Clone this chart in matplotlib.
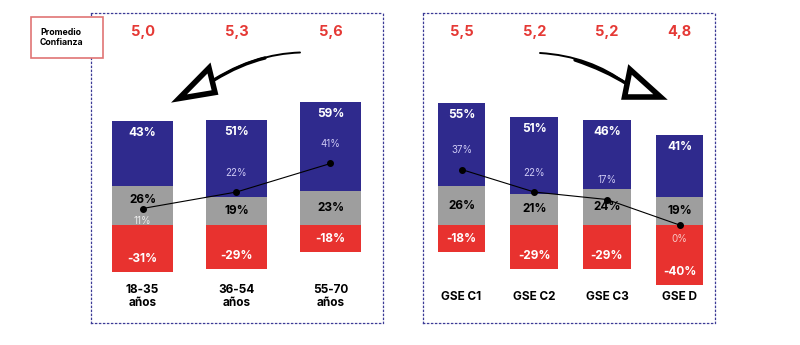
import matplotlib
matplotlib.use("Agg")
import matplotlib.pyplot as plt
import numpy as np
from matplotlib.patches import Rectangle, Polygon, PathPatch
from matplotlib.path import Path

plt.rcParams['font.family'] = ['Inter', 'DejaVu Sans']

# ---- data ----
age_labels = ["18-35\naños", "36-54\naños", "55-70\naños"]
age_pos = [43, 51, 59]
age_neu = [26, 19, 23]
age_neg = [-31, -29, -18]
age_net = [11, 22, 41]
age_avg = ["5,0", "5,3", "5,6"]

gse_labels = ["GSE C1", "GSE C2", "GSE C3", "GSE D"]
gse_pos = [55, 51, 46, 41]
gse_neu = [26, 21, 24, 19]
gse_neg = [-18, -29, -29, -40]
gse_net = [37, 22, 17, 0]
gse_avg = ["5,5", "5,2", "5,2", "4,8"]

BLUE = "#2F2A8D"
GRAY = "#9E9E9E"
RED = "#E8322F"
AVG_RED = "#E53935"
NET_BLUE = "#CDC9F4"
NET_RED = "#F8C9C6"
NET_GRAY = "#EDEDED"
BORDER = "#3B3A96"

W, H = 800, 345
fig = plt.figure(figsize=(8, 3.45), dpi=100)


def fx(x):
    return x / W


def fy(y):
    return 1 - y / H


def make_axes(x0, x1, y0, y1):
    ax = fig.add_axes([fx(x0), fy(y1), fx(x1) - fx(x0), fy(y0) - fy(y1)])
    for s in ax.spines.values():
        s.set_linestyle((0, (1, 2.2)))
        s.set_color(BORDER)
        s.set_linewidth(0.9)
    ax.set_xticks([])
    ax.set_yticks([])
    ax.set_facecolor("none")
    return ax


def draw_panel(ax, labels, pos, neu, neg, net, avg, xlim, width, below_net):
    x = np.arange(len(labels))
    ax.set_xlim(*xlim)
    ax.set_ylim(-65.3, 141.3)
    neu_a = np.array(neu)
    pos_a = np.array(pos)
    neg_a = np.array(neg)
    ax.bar(x, neg_a, width, color=RED, zorder=2)
    ax.bar(x, neu_a, width, color=GRAY, zorder=2)
    ax.bar(x, pos_a, width, bottom=neu_a, color=BLUE, zorder=2)
    ax.plot(x, net, color="black", lw=0.8, marker="o", ms=4, zorder=4)
    for i in range(len(labels)):
        top = neu[i] + pos[i]
        ax.text(x[i], top - 8, f"{pos[i]}%", ha="center", va="center",
                color="white", fontsize=8.5, fontweight="bold", zorder=5)
        gy = neu[i] / 2
        if below_net[i] == "gray":
            gy += 4
        ax.text(x[i], gy, f"{neu[i]}%", ha="center", va="center",
                color="black", fontsize=8.5, fontweight="bold", zorder=5)
        ax.text(x[i], neg[i] + 8.5, f"{neg[i]}%", ha="center", va="center",
                color="white", fontsize=8.5, fontweight="bold", zorder=5)
        if below_net[i] == "gray":
            ax.text(x[i], net[i] - 8.5, f"{net[i]}%", ha="center", va="center",
                    color=NET_GRAY, fontsize=7, zorder=5)
        elif below_net[i] == "red":
            ax.text(x[i], net[i] - 9.5, f"{net[i]}%", ha="center", va="center",
                    color=NET_RED, fontsize=7, zorder=5)
        else:
            ax.text(x[i], net[i] + 12.7, f"{net[i]}%", ha="center", va="center",
                    color=NET_BLUE, fontsize=7, zorder=5)
        ax.text(x[i], 128.7, avg[i], ha="center", va="center", color=AVG_RED,
                fontsize=10.5, fontweight="bold", zorder=5)
        ax.text(x[i], -47.7, labels[i], ha="center", va="center", color="black",
                fontsize=8.5, fontweight="bold", linespacing=1.05, zorder=5)


ax1 = make_axes(91, 383, 13, 323)
draw_panel(ax1, age_labels, age_pos, age_neu, age_neg, age_net, age_avg,
           (-0.548, 2.559), 0.65, ["gray", None, None])

ax2 = make_axes(423, 715, 13, 323)
draw_panel(ax2, gse_labels, gse_pos, gse_neu, gse_neg, gse_net, gse_avg,
           (-0.53, 3.487), 0.653, [None, None, None, "red"])

# "Promedio Confianza" box
fig.patches.append(Rectangle((fx(31), fy(57.5)), fx(103) - fx(31), fy(17.3) - fy(57.5),
                             transform=fig.transFigure, facecolor="white",
                             edgecolor="#E07474", lw=1.2, zorder=10))
fig.text(fx(40), fy(37.5), "Promedio\nConfianza", ha="left", va="center",
         fontsize=6.3, fontweight="bold", color="black", linespacing=1.15, zorder=11)


# hand-drawn style arrows
def shaft(p0, c, p1, lw):
    verts = [(fx(p0[0]), fy(p0[1])), (fx(c[0]), fy(c[1])), (fx(p1[0]), fy(p1[1]))]
    path = Path(verts, [Path.MOVETO, Path.CURVE3, Path.CURVE3])
    fig.patches.append(PathPatch(path, transform=fig.transFigure, fill=False,
                                 edgecolor="black", lw=lw, capstyle="round", zorder=10))


def head(pts):
    fig.patches.append(Polygon([(fx(a), fy(b)) for a, b in pts], closed=True,
                               transform=fig.transFigure, facecolor="white",
                               edgecolor="black", lw=4, joinstyle="miter", zorder=10))


shaft((300, 52.5), (255, 54), (214, 80), 1.4)
shaft((265, 58), (240, 64), (214, 80), 2.4)
head([(179, 98.5), (209, 68), (215, 92.5)])

shaft((540, 53), (590, 56), (627, 84), 1.4)
shaft((575, 60), (605, 70), (627, 84), 2.4)
head([(630, 69.5), (660.5, 97), (624.5, 97)])

fig.savefig("out.png", dpi=100)
